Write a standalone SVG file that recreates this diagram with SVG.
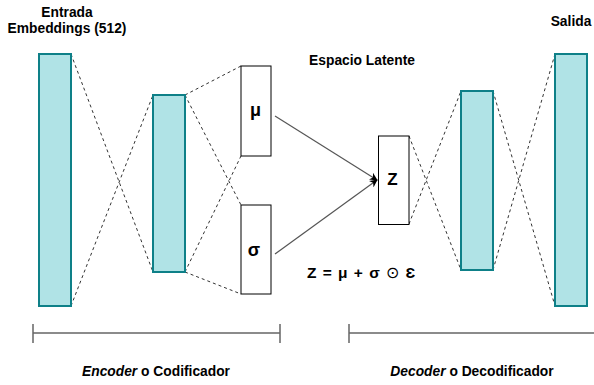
<svg xmlns="http://www.w3.org/2000/svg" width="594" height="385" viewBox="0 0 594 385">
<defs>
<style>
.layer{fill:#b0e3e6;stroke:#0e8088;stroke-width:2}
.box{fill:#ffffff;stroke:#000000;stroke-width:1}
.dash{fill:none;stroke:#333333;stroke-width:1;stroke-dasharray:3 3}
.arrow{fill:none;stroke:#555555;stroke-width:1.2}
.brk{fill:none;stroke:#666666;stroke-width:1.5}
text{font-family:"Liberation Sans",Arial,Helvetica,sans-serif;font-weight:bold;fill:#000000;text-anchor:middle}
.lbl{font-size:13.8px}
.sym{font-size:18px}
</style>
<marker id="ah" viewBox="0 0 10 10" refX="9" refY="5" markerWidth="8" markerHeight="8" markerUnits="userSpaceOnUse" orient="auto">
<path d="M0,0 L10,5 L0,10 L3,5 Z" fill="#000000"/>
</marker>
</defs>
<g id="connectors">
<line class="dash" x1="71" y1="54" x2="153" y2="272"/>
<line class="dash" x1="71" y1="306" x2="153" y2="95"/>
<line class="dash" x1="185" y1="95" x2="241" y2="66"/>
<line class="dash" x1="185" y1="95" x2="241" y2="205"/>
<line class="dash" x1="185" y1="272" x2="241" y2="156"/>
<line class="dash" x1="185" y1="272" x2="241" y2="294"/>
<line class="dash" x1="409" y1="136" x2="461" y2="270"/>
<line class="dash" x1="409" y1="224" x2="461" y2="91"/>
<line class="dash" x1="493" y1="91" x2="555" y2="306"/>
<line class="dash" x1="493" y1="270" x2="555" y2="54"/>
<line class="arrow" x1="275" y1="116" x2="377" y2="180" marker-end="url(#ah)"/>
<line class="arrow" x1="275" y1="254" x2="377" y2="180" marker-end="url(#ah)"/>
</g>
<g id="input">
<rect class="layer" x="39" y="54" width="32" height="252"/>
<text class="lbl" x="67" y="17">Entrada</text>
<text class="lbl" x="67" y="33">Embeddings (512)</text>
</g>
<g id="encoder-hidden">
<rect class="layer" x="153" y="95" width="32" height="177"/>
</g>
<g id="mu">
<rect class="box" x="241" y="66" width="30" height="90"/>
<text class="sym" x="255.5" y="116">μ</text>
</g>
<g id="sigma">
<rect class="box" x="241" y="205" width="30" height="89"/>
<text class="sym" x="254" y="256">σ</text>
</g>
<g id="z">
<rect class="box" x="378.5" y="136" width="30.5" height="88.5"/>
<text x="392.5" y="185" style="font-size:17px">Z</text>
</g>
<g id="latent-label">
<text class="lbl" x="362" y="65">Espacio Latente</text>
</g>
<g id="formula">
<text x="361" y="278" style="font-size:15.5px;word-spacing:2px">Z = μ + σ <tspan style="font-weight:normal">⊙</tspan> Ɛ</text>
</g>
<g id="decoder-hidden">
<rect class="layer" x="461" y="91" width="32" height="179"/>
</g>
<g id="output">
<rect class="layer" x="555" y="54" width="32" height="252"/>
<text class="lbl" x="571" y="26">Salida</text>
</g>
<g id="encoder-bracket">
<path class="brk" d="M33,333 H280 M33,324 V343 M280,324 V343"/>
<text class="lbl" x="156" y="376"><tspan font-style="italic">Encoder</tspan> o Codificador</text>
</g>
<g id="decoder-bracket">
<path class="brk" d="M349,333 H600 M349,324 V343"/>
<text class="lbl" x="472" y="376"><tspan font-style="italic">Decoder</tspan> o Decodificador</text>
</g>
</svg>
